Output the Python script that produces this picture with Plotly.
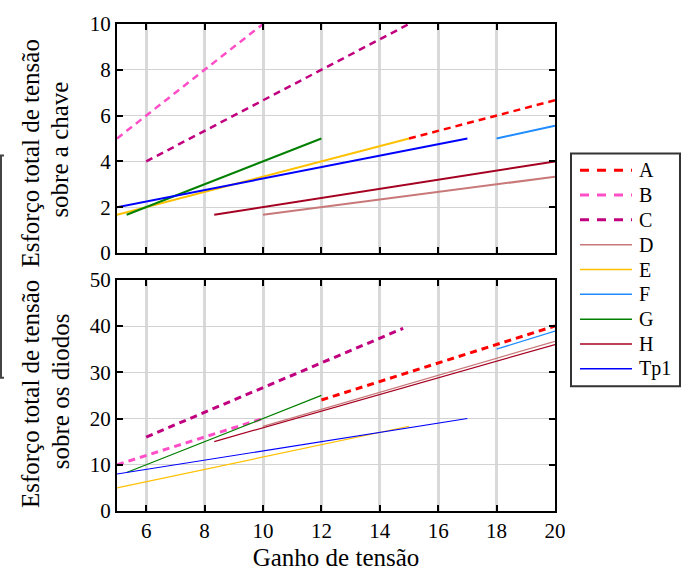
import plotly.graph_objects as go

names = ["A", "B", "C", "D", "E", "F", "G", "H", "Tp1"]
colors = ["#FF0000", "#FF4FC8", "#C0007F", "#C87878", "#FFC000", "#1E8CFF", "#008000", "#A50021", "#0000FF"]
dashed = [True, True, True, False, False, False, False, False, False]

# top panel: total switch voltage stress
top_x = [[15, 20], [5, 10], [6, 15], [10, 20], [5, 15], [18, 20], [5.33, 12], [8.33, 20], [5, 17]]
top_y = [[5, 6.67], [5, 10], [4, 10], [1.67, 3.33], [1.67, 5], [5, 5.56], [1.67, 5], [1.67, 4], [2, 5]]

# bottom panel: total diode voltage stress
bot_x = [[12, 20], [5, 10], [6, 14.8], [10, 20], [5, 15], [18, 20], [5.33, 12], [8.33, 20], [5, 17]]
bot_y = [[24, 40], [10, 20], [16, 39.5], [18.3, 36.7], [5, 18.33], [35, 38.9], [8.33, 25], [15, 36], [8, 20]]

x_ticks = [6, 8, 10, 12, 14, 16, 18, 20]
top_ticks = [0, 2, 4, 6, 8, 10]
bot_ticks = [0, 10, 20, 30, 40, 50]

FONT = "Liberation Serif"
W, H = 688, 579
L, R, T, B = 117, 133, 12, 63

fig = go.Figure()
for i, n in enumerate(names):
    dash = "7px,5px" if dashed[i] else "solid"
    fig.add_trace(go.Scatter(x=top_x[i], y=top_y[i], mode="lines", name=n,
                             showlegend=False, xaxis="x", yaxis="y",
                             line=dict(color=colors[i], width=2.5 if dashed[i] else 2, dash=dash)))
for i, n in enumerate(names):
    dash = "7px,5px" if dashed[i] else "solid"
    fig.add_trace(go.Scatter(x=bot_x[i], y=bot_y[i], mode="lines", name=n,
                             showlegend=False, xaxis="x2", yaxis="y2",
                             line=dict(color=colors[i], width=3 if dashed[i] else 1.2, dash=dash)))

ph = H - T - B
pw = W - L - R
def fy(py):
    return (H - B - py) / ph
def fx(px):
    return (px - L) / pw

axis_common = dict(showline=True, linecolor="black", linewidth=2, mirror="ticks",
                   ticks="inside", ticklen=6, tickwidth=1.5, tickcolor="black",
                   tickfont=dict(family=FONT, size=21, color="black"), zeroline=False)

fig.update_layout(
    width=W, height=H,
    margin=dict(l=L, r=R, t=T, b=B, pad=0),
    paper_bgcolor="white", plot_bgcolor="white",
    font=dict(family=FONT, color="black"),
    showlegend=False,
    xaxis=dict(domain=[0, 1], range=[5, 20], tickvals=x_ticks, showticklabels=False,
               anchor="y", showgrid=True, gridcolor="#D9D9D9", gridwidth=2.5, **axis_common),
    yaxis=dict(domain=[fy(249), 1], range=[0, 10], tickvals=top_ticks, anchor="x",
               showgrid=True, gridcolor="#D3D3D3", gridwidth=1, **axis_common),
    xaxis2=dict(domain=[0, 1], range=[5, 20], tickvals=x_ticks, anchor="y2",
                showgrid=True, gridcolor="#D9D9D9", gridwidth=2.5,
                title=dict(text="Ganho de tensão", font=dict(family=FONT, size=25, color="black"), standoff=6),
                **axis_common),
    yaxis2=dict(domain=[0, fy(276.7)], range=[0, 50], tickvals=bot_ticks, anchor="x2",
                showgrid=True, gridcolor="#D3D3D3", gridwidth=1, **axis_common),
)

labels = [
    ("Esforço total de tensão", 30, 146),
    ("sobre a chave", 60, 142),
    ("Esforço total de tensão", 30, 395),
    ("sobre os diodos", 60, 392),
]
for txt, px, py in labels:
    fig.add_annotation(text=txt, x=fx(px), y=fy(py), xref="paper", yref="paper",
                       xanchor="center", yanchor="middle", textangle=-90, showarrow=False,
                       font=dict(family=FONT, size=25, color="black"))

fig.add_shape(type="path", xref="paper", yref="paper",
              path=f"M {fx(4)} {fy(148)} L {fx(1)} {fy(148)} L {fx(1)} {fy(378)} L {fx(4)} {fy(378)}",
              line=dict(color="#444444", width=2))

# legend box (drawn manually)
fig.add_shape(type="rect", xref="paper", yref="paper",
              x0=fx(571), x1=fx(680), y0=fy(146), y1=fy(387),
              line=dict(color="#333333", width=2), fillcolor="white", layer="above")
for i, n in enumerate(names):
    yy = 163.3 + i * 25.7
    fig.add_shape(type="line", xref="paper", yref="paper",
                  x0=fx(580), x1=fx(632), y0=fy(yy), y1=fy(yy),
                  line=dict(color=colors[i], width=3 if dashed[i] else 1.5,
                            dash="9px,8px" if dashed[i] else "solid"))
    fig.add_annotation(text=n, x=fx(637), y=fy(yy), xref="paper", yref="paper",
                       xanchor="left", yanchor="middle", showarrow=False,
                       font=dict(family=FONT, size=20, color="black"))

fig.write_html("out.html")
